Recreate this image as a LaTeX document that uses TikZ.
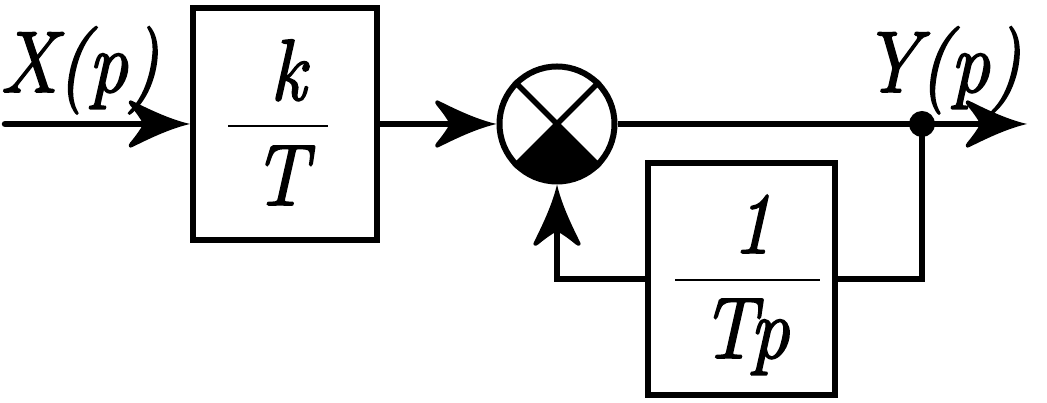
\documentclass[tikz,border=0pt]{standalone}
\usepackage{fontspec}
\newfontfamily\lmit{Latin Modern Roman}[FakeStretch=0.9, FakeBold=2]
\usetikzlibrary{arrows.meta}
\pgfdeclarearrow{
  name = Barb,
  parameters = {\the\pgfarrowlength,\the\pgfarrowwidth},
  setup code = {
    \pgfarrowssettipend{0pt}
    \pgfarrowssetlineend{-0.6\pgfarrowlength}
    \pgfarrowssetbackend{-\pgfarrowlength}
    \pgfarrowssavethe\pgfarrowlength
    \pgfarrowssavethe\pgfarrowwidth
  },
  drawing code = {
    \pgfpathmoveto{\pgfqpoint{0pt}{0pt}}
    \pgfpathcurveto{\pgfqpoint{-0.3\pgfarrowlength}{0.09\pgfarrowwidth}}{\pgfqpoint{-0.6\pgfarrowlength}{0.26\pgfarrowwidth}}{\pgfqpoint{-0.96\pgfarrowlength}{0.49\pgfarrowwidth}}
    \pgfpathcurveto{\pgfqpoint{-1.0\pgfarrowlength}{0.53\pgfarrowwidth}}{\pgfqpoint{-1.05\pgfarrowlength}{0.47\pgfarrowwidth}}{\pgfqpoint{-\pgfarrowlength}{0.4\pgfarrowwidth}}
    \pgfpathcurveto{\pgfqpoint{-0.9\pgfarrowlength}{0.25\pgfarrowwidth}}{\pgfqpoint{-0.82\pgfarrowlength}{0.1\pgfarrowwidth}}{\pgfqpoint{-0.78\pgfarrowlength}{0pt}}
    \pgfpathcurveto{\pgfqpoint{-0.82\pgfarrowlength}{-0.1\pgfarrowwidth}}{\pgfqpoint{-0.9\pgfarrowlength}{-0.25\pgfarrowwidth}}{\pgfqpoint{-\pgfarrowlength}{-0.4\pgfarrowwidth}}
    \pgfpathcurveto{\pgfqpoint{-1.05\pgfarrowlength}{-0.47\pgfarrowwidth}}{\pgfqpoint{-1.0\pgfarrowlength}{-0.53\pgfarrowwidth}}{\pgfqpoint{-0.96\pgfarrowlength}{-0.49\pgfarrowwidth}}
    \pgfpathcurveto{\pgfqpoint{-0.6\pgfarrowlength}{-0.26\pgfarrowwidth}}{\pgfqpoint{-0.3\pgfarrowlength}{-0.09\pgfarrowwidth}}{\pgfqpoint{0pt}{0pt}}
    \pgfpathclose
    \pgfusepathqfill
  },
  defaults = {length=60pt, width=47pt}
}
\tikzset{
  blockbox/.style={draw, line width=6pt, minimum height=232pt, inner sep=0pt},
  conn/.style={line width=6.5pt},
  arr/.style={conn, -{Barb}},
  lbl/.style={inner sep=0pt, font=\lmit\itshape\fontsize{87}{100}\selectfont},
  fracbar/.style={line width=2pt},
}
\begin{document}
\begin{tikzpicture}[x=1pt,y=1pt]
\useasboundingbox (0,0) rectangle (1047,403);
% blocks
\node[blockbox, minimum width=184pt] (box1) at (285,279) {};
\node[blockbox, minimum width=187pt] (box2) at (741.5,124) {};
\node[circle, draw, line width=6pt, minimum size=115pt, inner sep=0pt] (sum) at (557,279) {};
\coordinate (in) at (5,279);
\coordinate (out) at (1027,279);
\coordinate (dot) at (922,279);
% summing junction interior
\fill (sum.center) -- ++(-45:57.5) arc[start angle=-45, end angle=-135, radius=57.5] -- cycle;
\draw[line width=5.5pt] (sum.45) -- (sum.-135);
\draw[line width=5.5pt] (sum.135) -- (sum.-45);
% fractions
\node[lbl, anchor=base] (num1) at (288,303) {k};
\node[lbl, anchor=base] (den1) at (280,198) {T};
\draw[fracbar] (228,277) -- (328,277);
\node[lbl, anchor=base] (num2) at (752,150) {1};
\node[lbl, anchor=base] (den2) at (745,45) {Tp};
\draw[fracbar] (675,123) -- (820,123);
% labels
\node[lbl, anchor=base west] (xlab) at (0,311) {X(p)};
\node[lbl, anchor=base west] (ylab) at (862,311) {Y(p)};
% connectors
\draw[arr, line cap=round] (in) -- (box1.west);
\draw[arr] (box1.east) -- (sum.west);
\draw[conn] (sum.east) -- (dot);
\draw[arr] (dot) -- (out);
\draw[conn] (box2.east) -| (dot);
\draw[arr] (box2.west) -| (sum.south);
\node[circle, fill, minimum size=26pt, inner sep=0pt] (jdot) at (dot) {};
\end{tikzpicture}
\end{document}
